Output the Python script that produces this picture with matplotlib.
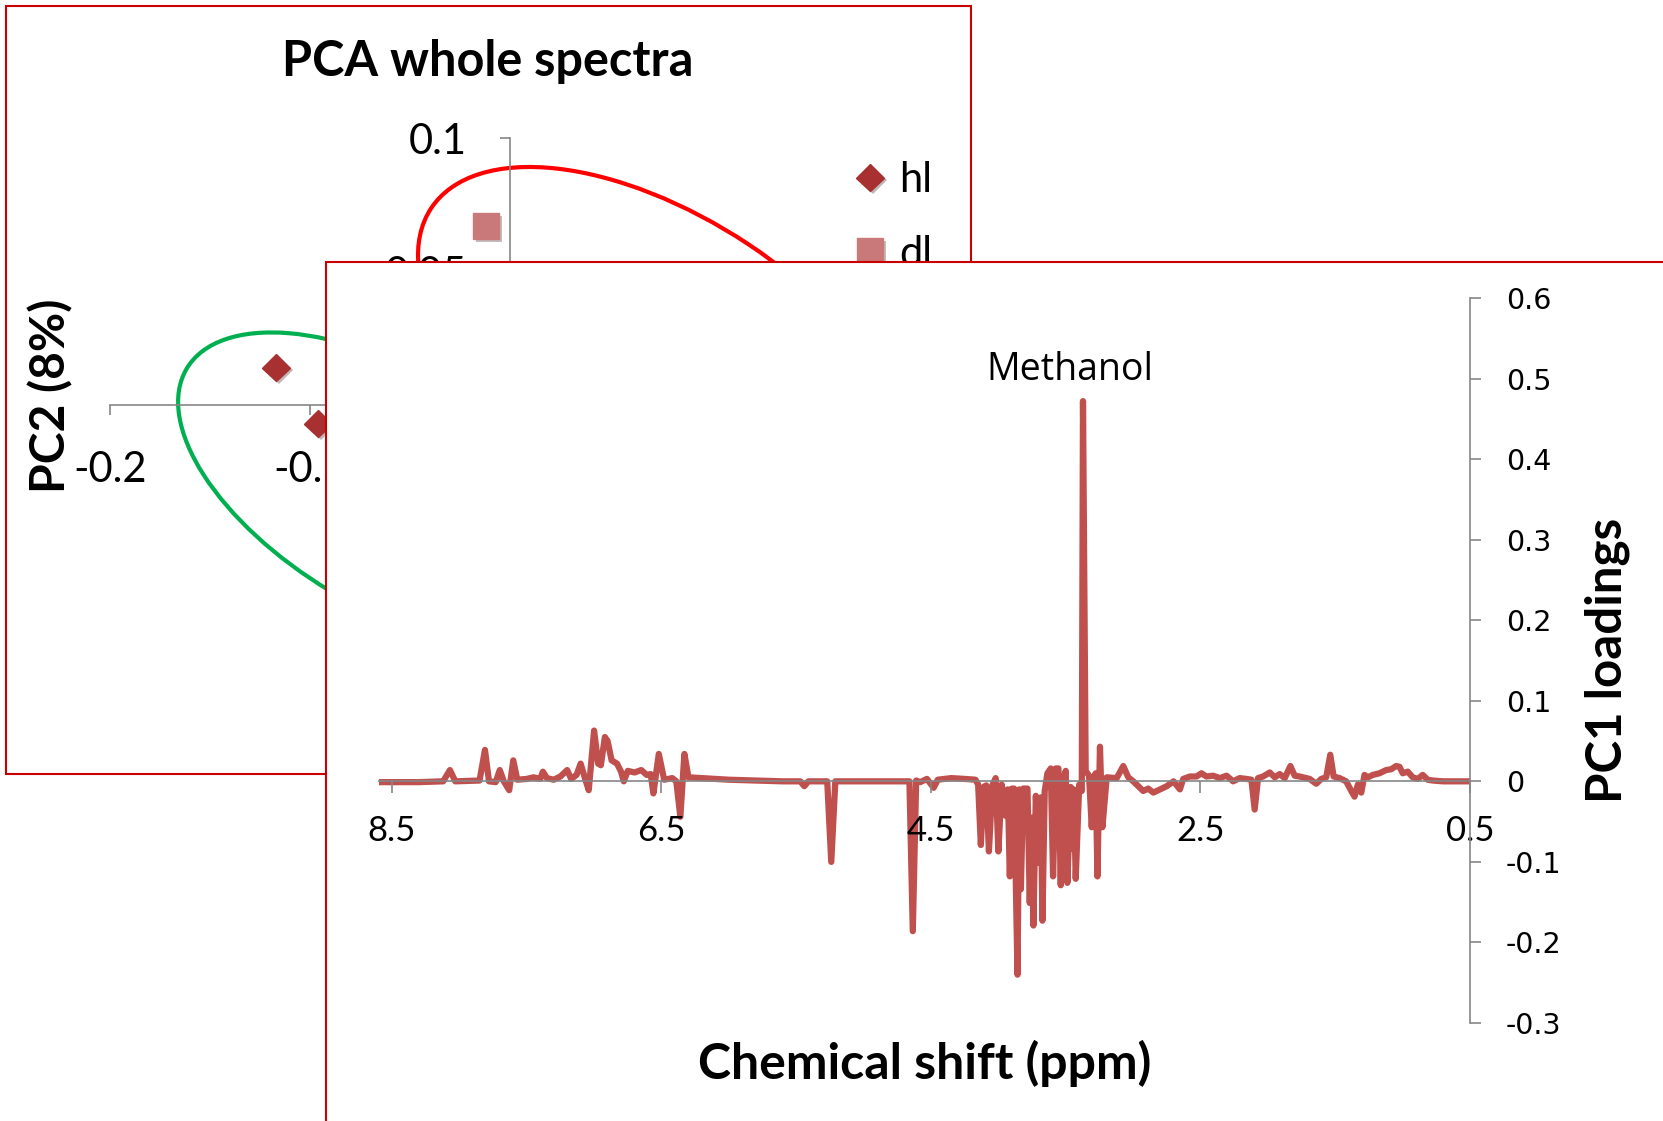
import numpy as np
import matplotlib
matplotlib.use("Agg")
import matplotlib.pyplot as plt
import matplotlib.patheffects as pe
from matplotlib.patches import Ellipse, Rectangle
from matplotlib.transforms import ScaledTranslation

# --- PCA scores (chart behind) ---
hl_pc1 = [-0.117, -0.096]
hl_pc2 = [0.014, -0.007]
dl_pc1 = [-0.012]
dl_pc2 = [0.067]
score_xticks = [-0.2, -0.1, 0.0, 0.1]
score_xlabels = ["-0.2", "-0.1", "0", "0.1"]
score_yticks = [-0.1, -0.05, 0.0, 0.05, 0.1]
score_ylabels = ["-0.1", "-0.05", "0", "0.05", "0.1"]

# group ellipses: centre in score units, size in pixels, tilt in degrees
red_centre = (0.079, 0.015)
red_size = (568, 290, -33.5)
green_centre = (-0.060, -0.032)
green_size = (474, 234, -31.0)

# --- PC1 loadings (chart in front) ---
aromatic_ppm = [8.61, 8.30, 8.12, 8.07, 8.03, 7.85, 7.81, 7.78, 7.73, 7.70,
                7.67, 7.63, 7.60, 7.57, 7.50, 7.45, 7.40, 7.38, 7.35, 7.30,
                7.25, 7.20, 7.17, 7.13, 7.10, 7.07, 7.04, 7.00, 6.97, 6.95,
                6.92, 6.90, 6.87, 6.83, 6.80, 6.78, 6.75, 6.70, 6.65, 6.61,
                6.58, 6.56, 6.52, 6.48, 6.42, 6.39, 6.36, 6.33, 6.30]
aromatic_pc1 = [-0.001, -0.001, 0.0, 0.014, 0.0, 0.001, 0.039, 0.0, -0.001, 0.014,
                0.0, -0.011, 0.026, 0.002, 0.003, 0.005, 0.003, 0.012, 0.004, 0.002,
                0.006, 0.014, 0.003, 0.008, 0.022, 0.005, -0.011, 0.063, 0.022, 0.020,
                0.055, 0.050, 0.026, 0.022, 0.012, 0.000, 0.013, 0.011, 0.014, 0.008,
                0.009, -0.015, 0.034, 0.002, 0.004, 0.000, -0.044, 0.034, 0.005]

sugar_ppm = [6.20, 6.00, 5.80, 5.60, 5.47, 5.44, 5.41, 5.27, 5.24, 5.21,
             5.00, 4.80, 4.66, 4.635, 4.61, 4.58, 4.53, 4.48, 4.45, 4.35,
             4.25, 4.17, 4.15, 4.13, 4.11, 4.09, 4.07, 4.045, 4.02, 4.00,
             3.975, 3.944, 3.93, 3.915, 3.90, 3.883, 3.858, 3.845, 3.833, 3.816,
             3.784, 3.767, 3.755, 3.740, 3.722, 3.698, 3.685, 3.673, 3.656, 3.636,
             3.611, 3.594, 3.574, 3.554, 3.537, 3.525, 3.500, 3.488, 3.463, 3.450,
             3.440, 3.426, 3.400, 3.381, 3.372, 3.352, 3.327, 3.307, 3.290, 3.278,
             3.265, 3.246, 3.228]
sugar_pc1 = [0.004, 0.002, 0.001, 0.000, 0.000, -0.006, 0.000, 0.000, -0.100, 0.000,
             0.000, 0.000, 0.000, -0.186, 0.001, -0.001, 0.003, -0.008, 0.002, 0.004,
             0.003, 0.002, -0.004, -0.079, -0.007, -0.005, -0.087, -0.005, 0.004, -0.087,
             -0.004, -0.043, -0.010, -0.118, -0.009, -0.009, -0.240, -0.010, -0.134, -0.009,
             -0.009, -0.151, -0.045, -0.179, -0.018, -0.101, -0.020, -0.173, -0.012, 0.010,
             0.016, -0.118, 0.016, 0.016, -0.129, -0.001, 0.013, -0.126, -0.007, -0.084,
             -0.010, -0.121, -0.004, -0.012, 0.472, 0.013, 0.007, -0.057, 0.005, 0.010,
             -0.118, 0.043, -0.057]

aliph_ppm = [3.196, 3.122, 3.073, 3.036, 2.999, 2.925, 2.888, 2.850, 2.800, 2.750,
             2.700, 2.653, 2.628, 2.579, 2.530, 2.493, 2.456, 2.406, 2.357, 2.307,
             2.258, 2.209, 2.159, 2.122, 2.098, 2.073, 2.036, 1.986, 1.949, 1.912,
             1.875, 1.833, 1.801, 1.764, 1.690, 1.641, 1.604, 1.567, 1.537, 1.512,
             1.468, 1.419, 1.381, 1.357, 1.332, 1.307, 1.283, 1.258, 1.221, 1.172,
             1.122, 1.085, 1.048, 1.023, 0.999, 0.962, 0.925, 0.888, 0.851, 0.814,
             0.777, 0.700, 0.600, 0.500]
aliph_pc1 = [0.005, 0.004, 0.019, 0.005, 0.000, -0.012, -0.009, -0.014, -0.010, -0.006,
             0.000, -0.010, 0.003, 0.006, 0.006, 0.010, 0.006, 0.007, 0.004, 0.007,
             0.000, 0.004, 0.003, 0.002, -0.035, 0.004, 0.006, 0.011, 0.005, 0.009,
             0.004, 0.019, 0.007, 0.006, 0.003, -0.003, 0.003, 0.005, 0.033, 0.006,
             0.004, 0.000, -0.012, -0.019, -0.004, -0.014, 0.008, 0.005, 0.008, 0.010,
             0.014, 0.015, 0.019, 0.018, 0.010, 0.012, 0.005, 0.003, 0.008, 0.002,
             0.001, 0.000, 0.000, 0.000]

shift_ticks = [8.5, 6.5, 4.5, 2.5, 0.5]
shift_labels = ["8.5", "6.5", "4.5", "2.5", "0.5"]
load_ticks = [-0.3, -0.2, -0.1, 0.0, 0.1, 0.2, 0.3, 0.4, 0.5, 0.6]
load_labels = ["-0.3", "-0.2", "-0.1", "0", "0.1", "0.2", "0.3", "0.4", "0.5", "0.6"]

W, H = 1663, 1121
AXIS_GREY = "#868686"
FRAME_RED = "#C80000"
NARROW = ["Lato", "DejaVu Sans"]


def px_box(left, top, right, bottom):
    """Figure-fraction rectangle from pixel edges (origin top left)."""
    return [left / W, 1 - bottom / H, (right - left) / W, (bottom - top) / H]


fig = plt.figure(figsize=(W / 100, H / 100), dpi=100)
fig.patch.set_facecolor("white")

# frame of the scores chart
fig.add_artist(Rectangle((6 / W, 1 - 774 / H), 965 / W, 768 / H, transform=fig.transFigure,
                         facecolor="white", edgecolor=FRAME_RED, lw=1.5, zorder=-5))

# ---------------- scores chart ----------------
ax1 = fig.add_axes(px_box(110, 138, 810, 672))
ax1.set_zorder(0)
ax1.set_xlim(-0.2, 0.15)
ax1.set_ylim(-0.1, 0.1)
ax1.patch.set_alpha(0)
for side in ["top", "right"]:
    ax1.spines[side].set_visible(False)
ax1.spines["left"].set_position(("data", 0))
ax1.spines["bottom"].set_position(("data", 0))
for side in ["left", "bottom"]:
    ax1.spines[side].set_color(AXIS_GREY)
    ax1.spines[side].set_linewidth(1.2)
ax1.set_xticks(score_xticks)
ax1.set_xticklabels(score_xlabels, family=NARROW, fontsize=30)
ax1.set_yticks(score_yticks)
ax1.set_yticklabels(score_ylabels, family=NARROW, fontsize=30)
ax1.tick_params(axis="x", direction="out", length=7, width=1.2, color=AXIS_GREY, pad=26)
ax1.tick_params(axis="y", direction="out", length=7, width=1.2, color=AXIS_GREY, pad=24)

shadow = [pe.SimplePatchShadow(offset=(2, -2), alpha=0.3), pe.Normal()]
ax1.plot(hl_pc1, hl_pc2, "D", color="#A83030", markersize=14, label="hl",
         path_effects=shadow, clip_on=False)
ax1.plot(dl_pc1, dl_pc2, "s", color="#C97979", markersize=19, label="dl",
         path_effects=shadow, clip_on=False)

for centre, (w, h, ang), col in [(red_centre, red_size, "#FF0000"),
                                 (green_centre, green_size, "#00B050")]:
    trans = fig.dpi_scale_trans + ScaledTranslation(centre[0], centre[1], ax1.transData)
    ax1.add_patch(Ellipse((0, 0), w / 100, h / 100, angle=ang, transform=trans,
                          fill=False, edgecolor=col, lw=3, clip_on=False))

ax1.legend(loc="center left", bbox_to_anchor=(816 / W, 1 - 217 / H),
           bbox_transform=fig.transFigure, frameon=False, handlelength=0.8,
           handletextpad=0.3, labelspacing=0.85, prop={"family": NARROW, "size": 30})

ax1.text((488 - 110) / 700, (672 - 62) / 534, "PCA whole spectra", transform=ax1.transAxes,
         ha="center", va="center", family=NARROW, fontsize=35, fontweight="bold")
ax1.set_ylabel("PC2 (8%)", family=NARROW, fontsize=34.5, fontweight="bold",
               ha="center", va="center")
ax1.yaxis.set_label_coords((51 - 110) / 700, (672 - 396) / 534)

# frame + white card of the loadings chart, drawn over the scores chart
fig.add_artist(Rectangle((326 / W, -0.1), 1.0, 1.1 - 262 / H, transform=fig.transFigure,
                         facecolor="white", edgecolor=FRAME_RED, lw=1.5, zorder=1))

# ---------------- loadings chart ----------------
ax2 = fig.add_axes(px_box(378.5, 298, 1470, 1023))
ax2.set_zorder(2)
ax2.patch.set_alpha(0)
ax2.set_xlim(8.6, 0.5)
ax2.set_ylim(-0.3, 0.6)
for side in ["top", "left"]:
    ax2.spines[side].set_visible(False)
ax2.spines["bottom"].set_position(("data", 0))
for side in ["right", "bottom"]:
    ax2.spines[side].set_color(AXIS_GREY)
    ax2.spines[side].set_linewidth(1.2)
ax2.yaxis.tick_right()
ax2.set_xticks(shift_ticks)
ax2.set_xticklabels(shift_labels, family=NARROW, fontsize=25)
ax2.set_yticks(load_ticks)
ax2.set_yticklabels(load_labels, family="DejaVu Sans", fontsize=20.5)
ax2.tick_params(axis="x", direction="out", length=8.5, width=1.2, color=AXIS_GREY, pad=16)
ax2.tick_params(axis="y", direction="out", length=8, width=1.2, color=AXIS_GREY, pad=18)

shift = np.concatenate([aromatic_ppm, sugar_ppm, aliph_ppm])
loading = np.concatenate([aromatic_pc1, sugar_pc1, aliph_pc1])
ax2.plot(shift, loading, color="#C0504D", lw=4.5, solid_joinstyle="round", zorder=1)

ax2.text(3.47, 0.51, "Methanol", ha="center", va="center", family="Open Sans", fontsize=27)

ax2.set_xlabel("Chemical shift (ppm)", family=NARROW, fontsize=36, fontweight="bold", va="center")
ax2.xaxis.set_label_coords(0.5, (1023 - 1063) / 725)
ax2.yaxis.set_label_position("right")
ax2.set_ylabel("PC1 loadings", family=NARROW, fontsize=35.5, fontweight="bold",
               rotation=90, ha="center", va="center")
ax2.yaxis.set_label_coords((1607 - 378.5) / 1091.5, (1023 - 660) / 725)

fig.savefig("out.png", dpi=100)
